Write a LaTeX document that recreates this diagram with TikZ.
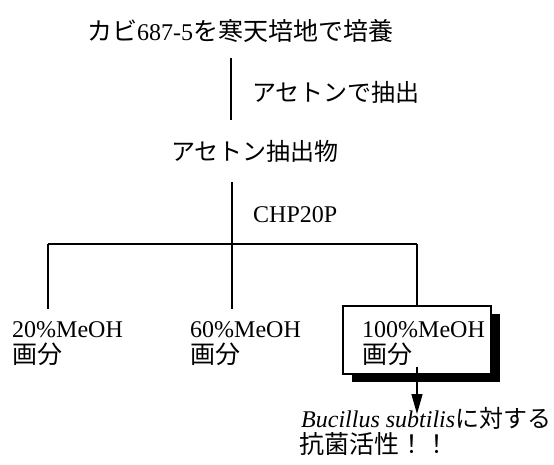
\documentclass[tikz,border=0pt]{standalone}
\usepackage{fontspec}
\setmainfont{Liberation Serif}
\newfontfamily\jp{Noto Sans CJK JP}
\usetikzlibrary{arrows.meta,shadows}
\newcommand{\bigjp}{\jp\fontsize{25}{28}\selectfont}
\begin{document}
\begin{tikzpicture}[x=1pt,y=-1pt,
  lbl/.style={inner sep=0pt, anchor=base west, font=\fontsize{24}{28}\selectfont},
  tight/.style={text height=18pt, text depth=3pt},
  conn/.style={line width=1.4pt, black},
  fracbox/.style={draw, line width=1.5pt, fill=white, inner sep=0pt,
    minimum width=148pt, minimum height=68pt,
    general shadow={fill=black, shadow xshift=9pt, shadow yshift=-8pt}},
]
\useasboundingbox[fill=white] (0,0) rectangle (554,464);
% title
\node[lbl] (title) at (87,40) {{\bigjp カビ}687-5{\bigjp を寒天培地で培養}};
\coordinate (t1) at (231,58);
\coordinate (t2) at (231,120);
\draw[conn] (t1) -- (t2);
\node[lbl] (step1) at (252,101) {\jp アセトンで抽出};
\node[lbl] (ext) at (171,160) {\jp アセトン抽出物};
\coordinate (c1) at (232,182);
\coordinate (hub) at (232,244);
\draw[conn] (c1) -- (hub);
\node[lbl] (chp) at (253,222) {CHP20P};
% branches
\coordinate (hl) at (48,244);
\coordinate (hr) at (417,244);
\draw[conn] (hl) -- (hr);
\coordinate (b1) at (48,309);
\coordinate (b2) at (232,309);
\draw[conn] (hl) -- (b1);
\draw[conn] (hub) -- (b2);
% box
\node[fracbox] (box) at (417,340) {};
\draw[conn] (hr) -- (box.north);
% fraction labels
\node[lbl, tight] (f1a) at (12,337) {20\%MeOH};
\node[lbl, tight] (f1b) at (12,363) {\bigjp 画分};
\node[lbl, tight] (f2a) at (190,337) {60\%MeOH};
\node[lbl, tight] (f2b) at (190,363) {\bigjp 画分};
\node[lbl, tight] (f3a) at (362,337) {100\%MeOH};
\node[lbl, tight] (f3b) at (362,363) {\bigjp 画分};
% arrow
\coordinate (atip) at (417,414);
\draw[conn, -{Triangle[length=20pt,width=11pt]}] ([yshift=8pt]box.south) -- (atip);
% result
\node[lbl, tight] (res1) at (301,427) {\itshape Bucillus subtilis{\jp\upshape に対する}};
\node[lbl, tight] (res2) at (299,453) {\bigjp 抗菌活性！！};
\end{tikzpicture}
\end{document}
